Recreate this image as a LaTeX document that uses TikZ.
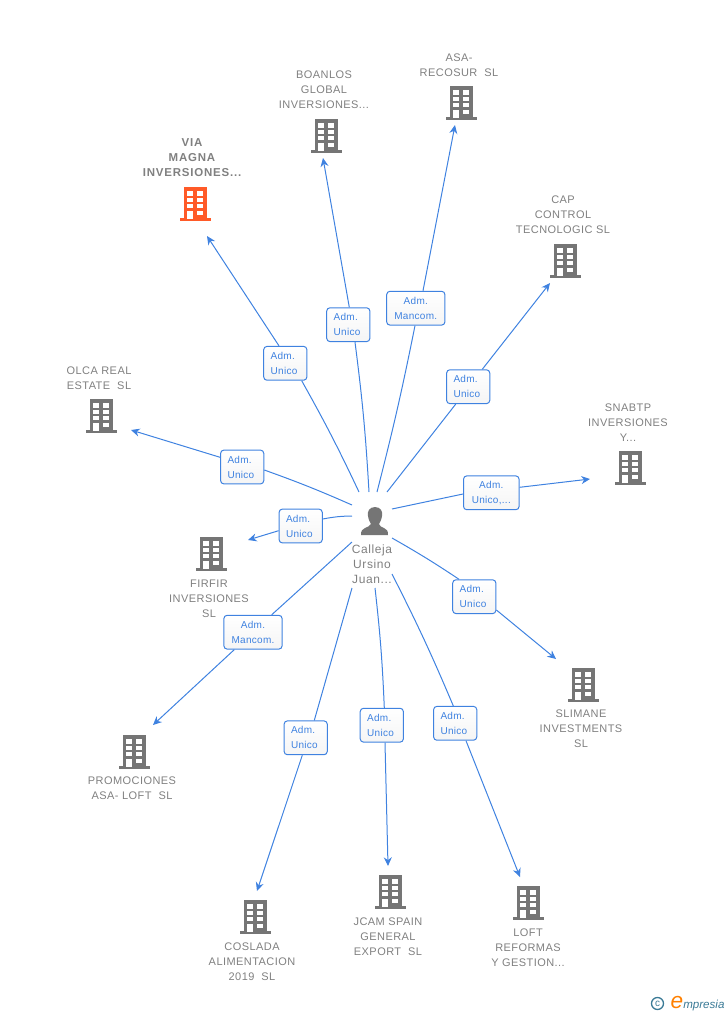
\documentclass[tikz,border=0pt]{standalone}
\usepackage{fontspec}
\setmainfont{Liberation Sans}
\newfontfamily\spacedthree[LetterSpace=3]{Liberation Sans}
\newfontfamily\spacedfour[LetterSpace=4]{Liberation Sans}
\newfontfamily\spacedfive[LetterSpace=5]{Liberation Sans}
\newfontfamily\spacedbold[LetterSpace=7]{Liberation Sans Bold}
\usetikzlibrary{arrows.meta,shadings}
\definecolor{linkblue}{HTML}{3F82E0}
\definecolor{txtgray}{HTML}{808080}
\definecolor{icongray}{HTML}{757575}
\definecolor{iconorange}{HTML}{FF5A28}
\definecolor{logoteal}{HTML}{3A7A96}
\tikzset{
  x=0.75pt,y=-0.75pt,
  bldg/.style={minimum width=24pt,minimum height=27pt,inner sep=0pt,path picture={
    \begin{scope}[shift={(path picture bounding box.center)},xshift=-0.4pt]
      \fill[#1] (-15.5,15) rectangle (15.7,17.5);
      \fill[#1] (-11,-16) rectangle (11.7,15);
      \fill[white] (-7.7,-12) rectangle (-2,-7.5);
      \fill[white] (2.3,-12) rectangle (8,-7.5);
      \fill[white] (-7.7,-5.3) rectangle (-2,-1.3);
      \fill[white] (2.3,-5.3) rectangle (8,-1.3);
      \fill[white] (-7.7,1) rectangle (-2,5);
      \fill[white] (2.3,1) rectangle (8,5);
      \fill[white] (2.3,8) rectangle (8,12);
      \fill[white] (-7.7,8) rectangle (-2,15.5);
    \end{scope}}},
  orgtext/.style={text=txtgray,align=center,inner sep=0pt,font=\spacedfour\fontsize{8.25}{11.25}\selectfont},
  orgbold/.style={orgtext,font=\spacedbold\fontsize{8.6}{11.25}\selectfont},
  persontext/.style={text=txtgray,align=center,inner sep=0pt,font=\spacedfive\fontsize{9}{11.25}\selectfont},
  rolebase/.style={draw=linkblue,line width=0.75pt,rounded corners=2.5pt,top color=white,bottom color=white!96!black,
    text=linkblue,inner sep=0pt,minimum height=25.4pt,font=\spacedthree\fontsize{7.5}{11.25}\selectfont},
  role/.style={rolebase,minimum width=32.4pt,text width=22pt,align=left},
  rolewide/.style={rolebase,minimum width=43.7pt,align=center},
  rolemid/.style={rolebase,minimum width=41.7pt,align=center},
  conn/.style={draw=linkblue,line width=0.75pt},
  arr/.style={conn,-{Stealth[length=6.5pt,width=6pt]}}
}
\newcommand{\twolines}[2]{\raisebox{-1.1pt}{#1}\\\raisebox{-1.1pt}{#2}}
\begin{document}
\begin{tikzpicture}
\useasboundingbox (0,0) rectangle (728,1015);
% person
\node[inner sep=0pt,minimum width=21pt,minimum height=21pt] (person) at (375,521) {};
\fill[icongray] (375,507) .. controls (369,507) and (367,512) .. (368,516) .. controls (368.5,520) and (370,522) .. (371,524)
  .. controls (370.5,526) and (367,527) .. (365,528) .. controls (362,529) and (361,531) .. (361,535)
  -- (388,535) .. controls (388,531) and (387,529) .. (384,528) .. controls (382,527) and (379,526) .. (379,524)
  .. controls (380,522) and (381.5,520) .. (382,516) .. controls (383,512) and (381,507) .. (375,507) -- cycle;
\node[persontext] (personname) at (372,564) {Calleja\\Ursino\\Juan...};
% organisations
\node[bldg=iconorange] (via) at (195,203) {};
\node[orgbold] (vialab) at (192,158) {VIA\\MAGNA\\INVERSIONES...};
\node[bldg=icongray] (boanlos) at (326,135) {};
\node[orgtext] (boanloslab) at (324,90) {BOANLOS\\GLOBAL\\INVERSIONES...};
\node[bldg=icongray] (asa) at (461,102) {};
\node[orgtext] (asalab) at (459,65.5) {ASA-\\RECOSUR\ \ SL};
\node[bldg=icongray] (cap) at (565,260) {};
\node[orgtext] (caplab) at (563,215) {CAP\\CONTROL\\TECNOLOGIC SL};
\node[bldg=icongray] (snabtp) at (630,467) {};
\node[orgtext] (snabtplab) at (628,423) {SNABTP\\INVERSIONES\\Y...};
\node[bldg=icongray] (slimane) at (583,684) {};
\node[orgtext] (slimanelab) at (581,729) {SLIMANE\\INVESTMENTS\\SL};
\node[bldg=icongray] (loft) at (528,902) {};
\node[orgtext] (loftlab) at (528,948) {LOFT\\REFORMAS\\Y GESTION...};
\node[bldg=icongray] (jcam) at (390,891) {};
\node[orgtext] (jcamlab) at (388,937) {JCAM SPAIN\\GENERAL\\EXPORT\ \ SL};
\node[bldg=icongray] (coslada) at (255,916) {};
\node[orgtext] (cosladalab) at (252,962) {COSLADA\\ALIMENTACION\\2019\ \ SL};
\node[bldg=icongray] (promo) at (134,751) {};
\node[orgtext] (promolab) at (132,788.5) {PROMOCIONES\\ASA- LOFT\ \ SL};
\node[bldg=icongray] (firfir) at (211,553) {};
\node[orgtext] (firfirlab) at (209,599) {FIRFIR\\INVERSIONES\\SL};
\node[bldg=icongray] (olca) at (101,415) {};
\node[orgtext] (olcalab) at (99,378.5) {OLCA REAL\\ESTATE\ \ SL};
% free ends
\coordinate (s1) at (359,492); \coordinate (e1) at (207,236);
\coordinate (s2) at (369,492); \coordinate (e2) at (323,158);
\coordinate (s3) at (377,492); \coordinate (e3) at (455,125);
\coordinate (s4) at (387,492); \coordinate (e4) at (550,283);
\coordinate (s5) at (392,509); \coordinate (e5) at (590,479);
\coordinate (s6) at (392,538); \coordinate (e6) at (556,659);
\coordinate (s7) at (392,574); \coordinate (e7) at (520,877);
\coordinate (s8) at (375,588); \coordinate (e8) at (388,866);
\coordinate (s9) at (352,588); \coordinate (e9) at (257,891);
\coordinate (s10) at (352,542); \coordinate (e10) at (153,725);
\coordinate (s11) at (352,516); \coordinate (e11) at (248,540);
\coordinate (s12) at (352,505); \coordinate (e12) at (131,430);
% role labels
\node[role] (r1) at (285.3,363.3) {\twolines{Adm.}{Unico}};
\node[role] (r2) at (348.3,324.7) {\twolines{Adm.}{Unico}};
\node[rolewide] (r3) at (415.8,308.2) {\twolines{Adm.}{Mancom.}};
\node[role] (r4) at (468.2,386.7) {\twolines{Adm.}{Unico}};
\node[rolemid] (r5) at (491.3,492.8) {\twolines{Adm.}{Unico,...}};
\node[role] (r6) at (474.3,596.7) {\twolines{Adm.}{Unico}};
\node[role] (r7) at (455.2,723.3) {\twolines{Adm.}{Unico}};
\node[role] (r8) at (381.8,725.2) {\twolines{Adm.}{Unico}};
\node[role] (r9) at (305.7,737.8) {\twolines{Adm.}{Unico}};
\node[rolewide] (r10) at (253,632.2) {\twolines{Adm.}{Mancom.}};
\node[role] (r11) at (300.7,526) {\twolines{Adm.}{Unico}};
\node[role] (r12) at (242.2,467) {\twolines{Adm.}{Unico}};
% arrows from the roles to the organisations, and lines to the person
\draw[arr] (r1.north) ++(-6.3,0) -- (e1);
\draw[conn] (r1.south) ++(16.4,0) to[bend left=2] (s1);
\draw[arr] (r2.north) ++(1,0) -- (e2);
\draw[conn] (r2.south) ++(6.7,0) to[bend left=2] (s2);
\draw[arr] (r3.north) ++(7.2,0) -- (e3);
\draw[conn] (r3.south) ++(-0.8,0) to[bend left=1.5] (s3);
\draw[arr] (r4.north) ++(14.1,0) -- (e4);
\draw[conn] (r4.south) ++(-12.5,0) -- (s4);
\draw[arr] (r5.east) ++(0,-5.5) -- (e5);
\draw[conn] (r5.west) ++(0,1.2) -- (s5);
\draw[arr] (r6.east) ++(0,13.3) -- (e6);
\draw[conn] (r6.north) ++(-15.3,0) to[bend right=2] (s6);
\draw[arr] (r7.south) ++(10.8,0) -- (e7);
\draw[conn] (r7.north) ++(-1.9,0) to[bend right=2] (s7);
\draw[arr] (r8.south) ++(3.2,0) -- (e8);
\draw[conn] (r8.north) ++(2.5,0) to[bend right=2] (s8);
\draw[arr] (r9.south) ++(-3.4,0) -- (e9);
\draw[conn] (r9.north) ++(8.6,0) -- (s9);
\draw[arr] (r10.south) ++(-18.7,0) -- (e10);
\draw[conn] (r10.north) ++(18.7,0) -- (s10);
\draw[arr] (r11.west) ++(0,4.7) -- (e11);
\draw[conn] (r11.east) ++(0,-7) to[bend left=5] (s11);
\draw[arr] (r12.west) ++(0,-9.7) -- (e12);
\draw[conn] (r12.east) ++(0,3) to[bend left=2] (s12);
% logo
\node[circle,draw=logoteal,line width=1pt,inner sep=0pt,minimum size=9pt,text=logoteal,font=\fontsize{7.5}{7.5}\selectfont] (copy) at (657.5,1003.5) {c};
\node[anchor=base west,inner sep=0pt,text=logoteal,font=\itshape\fontsize{8.7}{10}\selectfont] (brand) at (683,1008.5) {mpresia};
\node[anchor=base east,inner sep=0pt,text=orange,font=\itshape\fontsize{17}{17}\selectfont] (brande) at (683.5,1008.5) {e};
\end{tikzpicture}
\end{document}
